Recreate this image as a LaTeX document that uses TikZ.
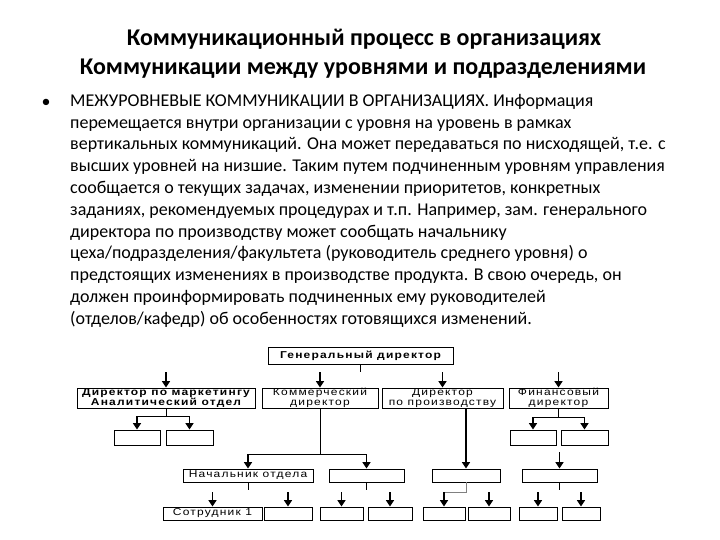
\documentclass[tikz,border=0pt]{standalone}
\usepackage{fontspec}
\setmainfont{Carlito}
\newfontfamily\orgfont[FakeStretch=1.2,LetterSpace=12]{Liberation Sans}
\usetikzlibrary{arrows.meta}

\begin{document}
\begin{tikzpicture}[x=1pt,y=-1pt,
  title/.style={anchor=base,font=\bfseries\fontsize{24}{28}\selectfont},
  box/.style={draw,line width=0.9pt,inner sep=0pt,align=center,font=\orgfont\fontsize{10}{9.5}\selectfont},
  arr/.style={-{Triangle[length=6.5pt,width=8pt]},line width=1.5pt},
  link/.style={line width=0.9pt}]
\path[use as bounding box,fill=white] (0,0) rectangle (720,540);

% заголовок
\node[title] (title1) at (364,46) {Коммуникационный процесс в организациях};
\node[title] (title2) at (363,75) {Коммуникации между уровнями и подразделениями};

% текст слайда
\node[font=\fontsize{18}{20}\selectfont] (bullet) at (46,103) {\textbullet};
\node[anchor=north west,inner sep=0pt,align=left,font=\fontsize{18}{21.8}\selectfont] (body) at (70,94) {МЕЖУРОВНЕВЫЕ КОММУНИКАЦИИ В ОРГАНИЗАЦИЯХ. Информация\\
перемещается внутри организации с уровня на уровень в рамках\\
вертикальных коммуникаций. Она может передаваться по нисходящей, т.е. с\\
высших уровней на низшие. Таким путем подчиненным уровням управления\\
сообщается о текущих задачах, изменении приоритетов, конкретных\\
заданиях, рекомендуемых процедурах и т.п. Например, зам. генерального\\
директора по производству может сообщать начальнику\\
цеха/подразделения/факультета (руководитель среднего уровня) о\\
предстоящих изменениях в производстве продукта. В свою очередь, он\\
должен проинформировать подчиненных ему руководителей\\
(отделов/кафедр) об особенностях готовящихся изменений.};

% схема
\node[box,font=\orgfont\bfseries\fontsize{10}{9.5}\selectfont,minimum width=185,minimum height=17] (gen) at (360.5,355.5) {Генеральный директор};

\node[box,font=\orgfont\bfseries\fontsize{10}{9.5}\selectfont,minimum width=178,minimum height=20] (mkt) at (166,398) {Директор по маркетингу\\Аналитический отдел};
\node[box,minimum width=116,minimum height=20] (com) at (320,398) {Коммерческий\\директор};
\node[box,minimum width=121,minimum height=20] (prod) at (442.5,398) {Директор\\по производству};
\node[box,minimum width=99,minimum height=20] (fin) at (558.5,398) {Финансовый\\директор};

\node[box,minimum width=46,minimum height=15] (m1) at (137,437.5) {};
\node[box,minimum width=47,minimum height=15] (m2) at (189.5,437.5) {};
\node[box,minimum width=46,minimum height=15] (f1) at (533,437.5) {};
\node[box,minimum width=47,minimum height=15] (f2) at (584.5,437.5) {};

\node[box,minimum width=130,minimum height=13] (l4a) at (248,475.5) {Начальник отдела};
\node[box,minimum width=75,minimum height=13] (l4b) at (366.5,475.5) {};
\node[box,minimum width=68,minimum height=13] (l4c) at (466,475.5) {};
\node[box,minimum width=75,minimum height=13] (l4d) at (559.5,475.5) {};

\node[box,minimum width=99,minimum height=13] (s1) at (212.5,513.5) {Сотрудник 1};
\node[box,minimum width=48,minimum height=13] (s2) at (288,513.5) {};
\node[box,minimum width=43,minimum height=13] (s3) at (341.5,513.5) {};
\node[box,minimum width=44,minimum height=13] (s4) at (390,513.5) {};
\node[box,minimum width=42,minimum height=13] (s5) at (444,513.5) {};
\node[box,minimum width=42,minimum height=13] (s6) at (489,513.5) {};
\node[box,minimum width=38,minimum height=13] (s7) at (538,513.5) {};
\node[box,minimum width=38,minimum height=13] (s8) at (581,513.5) {};

\coordinate (lvl2) at (0,372);
\coordinate (lvl4) at (0,452);
\coordinate (lvl5) at (0,492);

% связи
\draw[link] (gen.south) -- ++(0,8);
\foreach \n in {mkt,com,prod,fin}
  \draw[arr] (\n.north |- lvl2) -- (\n.north);

\draw[link] (mkt.south) -- ++(0,8) coordinate (mktfork);
\draw[arr] (mktfork) -| (m1.north);
\draw[arr] (mktfork) -| (m2.north);
\draw[link] (fin.south) -- ++(0,9) coordinate (finfork);
\draw[arr] (finfork) -| (f1.north);
\draw[arr] (finfork) -| (f2.north);

\draw[link] (com.south) -- ++(0,46) coordinate (comfork);
\draw[arr] (comfork) -| (l4a.north);
\draw[arr] (comfork) -| (l4b.north);
\draw[arr] (prod.south -| l4c.north) -- (l4c.north);
\draw[arr] (l4d.north |- lvl4) -- (l4d.north);

\foreach \n in {l4a,l4b,l4c,l4d}
  \draw[link] (\n.south) -- ++(0,8);
\draw[thin,gray] (l4c.south) |- (s5.north |- lvl5);
\foreach \n in {s1,s2,s3,s4,s5,s6,s7,s8}
  \draw[arr] (\n.north |- lvl5) -- (\n.north);
\end{tikzpicture}
\end{document}
